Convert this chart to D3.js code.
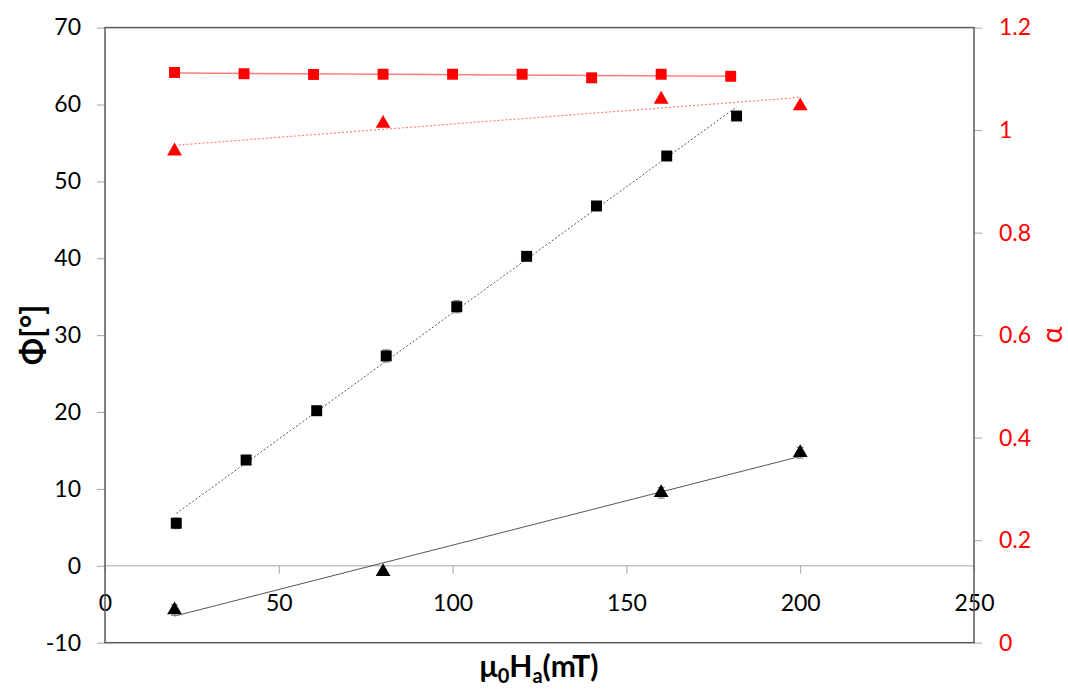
<!DOCTYPE html>
<html>
<head>
<meta charset="utf-8">
<script src="https://cdn.jsdelivr.net/npm/d3@7"></script>
<style>
  body { margin: 0; background: #fff; }
  svg, svg text { font-family: Lato, "Open Sans", sans-serif; }
  .tick text { font-size: 23px; font-family: Lato, "Open Sans", sans-serif; }
</style>
</head>
<body>
<div id="chart"></div>
<script>
// values
const xTicks = [0, 50, 100, 150, 200, 250];
const phiTicks = [-10, 0, 10, 20, 30, 40, 50, 60, 70];
const alphaTicks = [0, 0.2, 0.4, 0.6, 0.8, 1, 1.2];

// Φ, squares
const phiSqX = [20.5, 40.6, 60.9, 80.9, 101.2, 121.3, 141.4, 161.6, 181.7];
const phiSqY = [5.53, 13.76, 20.17, 27.3, 33.7, 40.25, 46.8, 53.3, 58.5];
const phiSqErr = [0.7, 0.6, 0.6, 0.8, 0.8, 0.5, 0.5, 0.5, 0.5];
// Φ, triangles
const phiTriX = [20, 80, 160, 200];
const phiTriY = [-5.75, -0.77, 9.5, 14.7];
const phiTriErr = [0.7, 0.3, 0.7, 0.7];
// α, squares
const alphaSqX = [20, 40, 60, 80, 100, 120, 140, 160, 180];
const alphaSqY = [1.1125, 1.110, 1.1086, 1.109, 1.109, 1.109, 1.102, 1.109, 1.105];
// α, triangles
const alphaTriX = [20, 80, 160, 200];
const alphaTriY = [0.959, 1.013, 1.060, 1.047];

const width = 1068, height = 692;
const margin = {top: 27.6, right: 94, bottom: 49.3, left: 105};

const svg = d3.select("#chart").append("svg")
    .attr("width", width)
    .attr("height", height);

const x = d3.scaleLinear().domain([0, 250]).range([margin.left, width - margin.right]);
const yPhi = d3.scaleLinear().domain([-10, 70]).range([height - margin.bottom, margin.top]);
const yAlpha = d3.scaleLinear().domain([0, 1.2]).range([height - margin.bottom, margin.top]);

// least squares line through a series
function fit(xs, ys) {
    const mx = d3.mean(xs), my = d3.mean(ys);
    const sxy = d3.sum(xs, (v, i) => (v - mx) * (ys[i] - my));
    const sxx = d3.sum(xs, v => (v - mx) * (v - mx));
    const b = sxy / sxx;
    return v => my + b * (v - mx);
}

// x axis on the Φ = 0 line
const xAxis = svg.append("g")
    .attr("transform", "translate(0," + yPhi(0) + ")")
    .call(d3.axisBottom(x).tickValues(xTicks).tickSize(8).tickPadding(21));
xAxis.attr("font-family", null);
xAxis.selectAll("line, path").attr("stroke", "#a6a6a6");
xAxis.select(".domain").attr("d", "M" + x(0) + ",0H" + x(250));
xAxis.selectAll("text").attr("fill", "#000");

// left axis
const yAxisL = svg.append("g")
    .attr("transform", "translate(" + margin.left + ",0)")
    .call(d3.axisLeft(yPhi).tickValues(phiTicks).tickSize(8).tickPadding(16).tickFormat(d => String(d)));
yAxisL.attr("font-family", null);
yAxisL.select(".domain").remove();
yAxisL.selectAll("line").attr("stroke", "#a6a6a6");
yAxisL.selectAll("text").attr("fill", "#000");

// right axis
const yAxisR = svg.append("g")
    .attr("transform", "translate(" + (width - margin.right) + ",0)")
    .call(d3.axisRight(yAlpha).tickValues(alphaTicks).tickSize(8).tickPadding(17).tickFormat(d3.format("~g")));
yAxisR.attr("font-family", null);
yAxisR.select(".domain").remove();
yAxisR.selectAll("line").attr("stroke", "#a6a6a6");
yAxisR.selectAll("text").attr("fill", "#ff0000");

// frame of the plot area
svg.append("rect")
    .attr("x", margin.left)
    .attr("y", margin.top)
    .attr("width", width - margin.right - margin.left)
    .attr("height", height - margin.bottom - margin.top)
    .attr("fill", "none")
    .attr("stroke", "#595959")
    .attr("stroke-width", 1.5);

// trend lines
function trend(xs, ys, yScale, color, dash, w) {
    const f = fit(xs, ys);
    const x0 = d3.min(xs), x1 = d3.max(xs);
    svg.append("line")
        .attr("x1", x(x0)).attr("y1", yScale(f(x0)))
        .attr("x2", x(x1)).attr("y2", yScale(f(x1)))
        .attr("stroke", color)
        .attr("stroke-width", w)
        .attr("stroke-dasharray", dash);
}
trend(phiSqX, phiSqY, yPhi, "#555", "2,2", 1);
trend(phiTriX, phiTriY, yPhi, "#555", null, 1);
trend(alphaSqX, alphaSqY, yAlpha, "#ff7f7f", null, 1.5);
trend(alphaTriX, alphaTriY, yAlpha, "#ff7f7f", "2,2", 1.2);

// error bars
function errorBars(xs, ys, errs) {
    const g = svg.append("g").attr("stroke", "#7f7f7f").attr("stroke-width", 1);
    xs.forEach((v, i) => {
        const cx = x(v), top = yPhi(ys[i] + errs[i]), bot = yPhi(ys[i] - errs[i]);
        g.append("line").attr("x1", cx).attr("x2", cx).attr("y1", top).attr("y2", bot);
        g.append("line").attr("x1", cx - 3.5).attr("x2", cx + 3.5).attr("y1", top).attr("y2", top);
        g.append("line").attr("x1", cx - 3.5).attr("x2", cx + 3.5).attr("y1", bot).attr("y2", bot);
    });
}
errorBars(phiSqX, phiSqY, phiSqErr);
errorBars(phiTriX, phiTriY, phiTriErr);

// markers
const square = d3.symbol().type(d3.symbolSquare).size(120);
const triangle = d3.symbol().type(d3.symbolTriangle).size(95);

function markers(xs, ys, yScale, sym, color) {
    svg.append("g").selectAll("path")
        .data(xs)
        .join("path")
        .attr("d", sym)
        .attr("transform", (d, i) => "translate(" + x(d) + "," + yScale(ys[i]) + ")")
        .attr("fill", color);
}
markers(phiSqX, phiSqY, yPhi, square, "#000");
markers(phiTriX, phiTriY, yPhi, triangle, "#000");
markers(alphaSqX, alphaSqY, yAlpha, square, "#ff0000");
markers(alphaTriX, alphaTriY, yAlpha, triangle, "#ff0000");

// axis titles
svg.append("text")
    .attr("transform", "translate(44,335) rotate(-90)")
    .attr("text-anchor", "middle")
    .attr("font-size", 32)
    .attr("font-weight", "bold")
    .text("Φ[°]");

const xt = svg.append("text")
    .attr("x", 539)
    .attr("y", 677)
    .attr("text-anchor", "middle")
    .attr("font-size", 30)
    .attr("font-weight", "bold");
xt.append("tspan").text("μ");
xt.append("tspan").attr("font-size", 20).attr("dy", 6).text("0");
xt.append("tspan").attr("dy", -6).text("H");
xt.append("tspan").attr("font-size", 20).attr("dy", 6).text("a");
xt.append("tspan").attr("dy", -6).text("(mT)");

svg.append("text")
    .attr("transform", "translate(1062,335) rotate(-90)")
    .attr("text-anchor", "middle")
    .attr("font-size", 28)
    .attr("fill", "#ff0000")
    .text("α");
</script>
</body>
</html>
